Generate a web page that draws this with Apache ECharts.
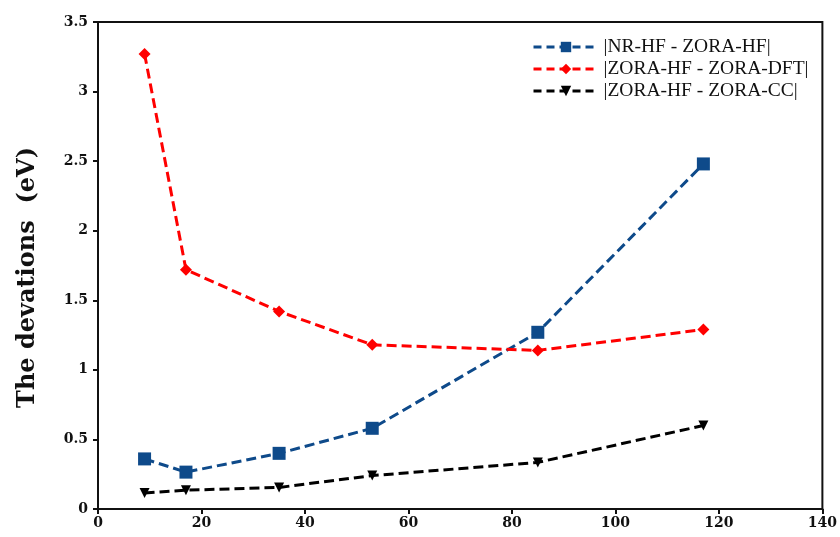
<!DOCTYPE html>
<html>
<head>
<meta charset="utf-8">
<script src="https://cdn.jsdelivr.net/npm/echarts@6/dist/echarts.min.js"></script>
<style>html,body{margin:0;padding:0;background:#fff}#c{width:840px;height:537px}</style>
</head>
<body>
<div id="c"></div>
<script>
var xValues = [9, 17, 35, 53, 85, 117];
var nrHfZoraHf = [0.36, 0.265, 0.40, 0.58, 1.27, 2.48];
var zoraHfZoraDft = [3.27, 1.72, 1.42, 1.18, 1.14, 1.29];
var zoraHfZoraCc = [0.115, 0.135, 0.155, 0.24, 0.335, 0.60];
var seriesNames = ['|NR-HF - ZORA-HF|', '|ZORA-HF - ZORA-DFT|', '|ZORA-HF - ZORA-CC|'];

function pairs(ys) { return xValues.map(function (x, i) { return [x, ys[i]]; }); }

var serif = '"DejaVu Serif", "Liberation Serif", serif';
var lserif = '"Liberation Serif", "DejaVu Serif", serif';
var chart = echarts.init(document.getElementById('c'), null, { renderer: 'canvas' });
function mk(name, ys, color, symbol, size, rot) {
  return {
    name: name, type: 'line', data: pairs(ys),
    symbol: symbol, symbolSize: size, symbolRotate: rot || 0,
    lineStyle: { color: color, width: 3, type: [10, 5] },
    itemStyle: { color: color },
    emphasis: { disabled: true }
  };
}
chart.setOption({
  animation: false,
  backgroundColor: '#fff',
  grid: { left: 98, right: 17, top: 22, bottom: 28, show: true, borderColor: '#111', borderWidth: 2 },
  legend: {
    left: 527, top: 32, orient: 'vertical', itemGap: 2, itemWidth: 65, itemHeight: 13,
    lineStyle: { width: 3, type: [8, 5] },
    textStyle: { fontFamily: lserif, fontSize: 19.5, color: '#111' },
    data: seriesNames
  },
  xAxis: {
    type: 'value', min: 0, max: 140, interval: 20,
    axisLine: { lineStyle: { color: '#111', width: 2 } },
    axisTick: { inside: false, length: 5, lineStyle: { color: '#111', width: 2 } },
    splitLine: { show: false },
    axisLabel: { fontFamily: serif, fontWeight: 'bold', fontSize: 14, color: '#111', margin: 7 }
  },
  yAxis: {
    type: 'value', min: 0, max: 3.5, interval: 0.5,
    name: 'The devations  (eV)', nameLocation: 'middle', nameGap: 58,
    nameTextStyle: { fontFamily: serif, fontWeight: 'bold', fontSize: 24, color: '#111', padding: [0, 24, 0, 0] },
    axisLine: { lineStyle: { color: '#111', width: 2 } },
    axisTick: { inside: false, length: 5, lineStyle: { color: '#111', width: 2 } },
    splitLine: { show: false },
    axisLabel: { fontFamily: serif, fontWeight: 'bold', fontSize: 14, color: '#111', margin: 10 }
  },
  series: [
    mk(seriesNames[0], nrHfZoraHf, '#0e4a8a', 'rect', 13),
    mk(seriesNames[1], zoraHfZoraDft, '#ff0000', 'diamond', 12),
    mk(seriesNames[2], zoraHfZoraCc, '#000000', 'triangle', 10, 180)
  ]
});
</script>
</body>
</html>
